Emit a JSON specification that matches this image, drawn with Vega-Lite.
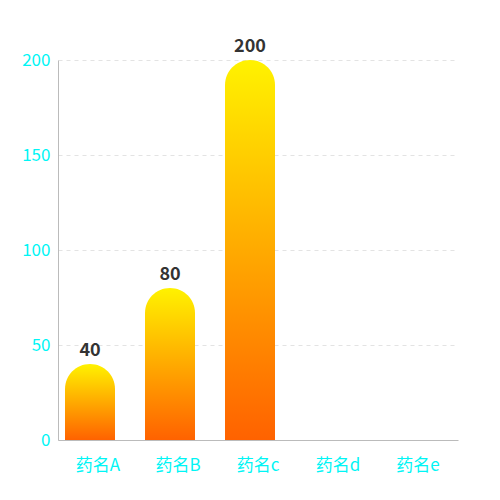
{
  "$schema": "https://vega.github.io/schema/vega-lite/v6.json",
  "width": 400,
  "height": 380,
  "autosize": {"type": "none"},
  "padding": {"left": 58, "top": 60, "right": 42, "bottom": 60},
  "background": "white",
  "data": {
    "values": [
      {"name": "药名A", "value": 40},
      {"name": "药名B", "value": 80},
      {"name": "药名c", "value": 200},
      {"name": "药名d", "value": 0},
      {"name": "药名e", "value": 0}
    ]
  },
  "encoding": {
    "x": {
      "field": "name", "type": "nominal", "sort": null, "title": null,
      "scale": {"paddingInner": 0.375, "paddingOuter": 0.1875},
      "axis": {"labelAngle": 0, "ticks": false, "labelPadding": 17, "grid": false}
    },
    "y": {
      "field": "value", "type": "quantitative", "title": null,
      "scale": {"domain": [0, 200], "nice": false},
      "axis": {"values": [0, 50, 100, 150, 200], "ticks": false, "labelPadding": 8, "gridDash": [4, 4], "gridColor": "#e3e3e3"}
    }
  },
  "layer": [
    {
      "mark": {
        "type": "bar",
        "xOffset": -8,
        "cornerRadiusTopLeft": 25,
        "cornerRadiusTopRight": 25,
        "color": {
          "gradient": "linear", "x1": 0, "y1": 0, "x2": 0, "y2": 1,
          "stops": [{"offset": 0, "color": "#fff200"}, {"offset": 1, "color": "#ff6200"}]
        }
      }
    },
    {
      "transform": [{"filter": "datum.value > 0"}],
      "mark": {"type": "text", "xOffset": -8, "dy": -8, "fontSize": 18, "fontWeight": "bold", "color": "#333", "font": "Noto Sans CJK SC", "baseline": "alphabetic"},
      "encoding": {"text": {"field": "value"}}
    }
  ],
  "config": {
    "view": {"stroke": null},
    "axis": {
      "labelColor": "#00f5f5",
      "labelFontSize": 17,
      "labelFont": "Noto Sans CJK SC",
      "domainColor": "#bbbbbb",
      "grid": true
    },
    "axisX": {"grid": false}
  }
}
